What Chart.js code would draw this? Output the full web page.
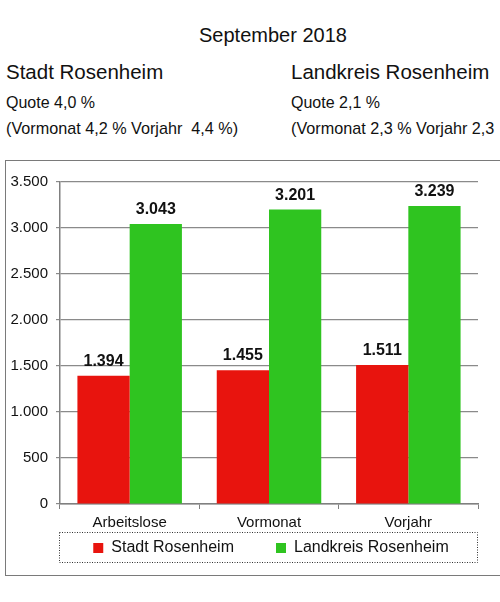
<!DOCTYPE html>
<html>
<head>
<meta charset="utf-8">
<script src="https://cdn.jsdelivr.net/npm/chart.js@4.4.0/dist/chart.umd.min.js"></script>
<style>
  html, body { margin: 0; padding: 0; background: #fff; }
  body { width: 500px; height: 602px; overflow: hidden; position: relative;
         font-family: "Liberation Sans", Arial, sans-serif; color: #111; }
  .txt { position: absolute; white-space: nowrap; }
  #frame { position: absolute; left: 5px; top: 160px; width: 600px; height: 414px;
           border: 1.5px solid #7a7a7a; }
  #box { position: absolute; left: 0; top: 160px; width: 500px; height: 416px; }
</style>
</head>
<body>
<div class="txt" style="left:199px; top:24px; font-size:20px; line-height:22px;">September 2018</div>
<div class="txt" style="left:6px; top:61px; font-size:20.5px; line-height:22px;">Stadt Rosenheim</div>
<div class="txt" style="left:291px; top:61px; font-size:20.5px; line-height:22px;">Landkreis Rosenheim</div>
<div class="txt" style="left:6px; top:94px; font-size:16px; line-height:18px;">Quote 4,0 %</div>
<div class="txt" style="left:291px; top:94px; font-size:16px; line-height:18px;">Quote 2,1 %</div>
<div class="txt" style="left:6px; top:119px; font-size:16.2px; line-height:18px;">(Vormonat 4,2 % Vorjahr&nbsp; 4,4 %)</div>
<div class="txt" style="left:291px; top:119px; font-size:16.2px; line-height:18px;">(Vormonat 2,3 % Vorjahr 2,3</div>
<div id="frame"></div>
<div id="box"><canvas id="chart"></canvas></div>
<script>
// daten
const categories = ['Arbeitslose', 'Vormonat', 'Vorjahr'];
const stadtValues = [1394, 1455, 1511];
const landkreisValues = [3043, 3201, 3239];
const seriesNames = ['Stadt Rosenheim', 'Landkreis Rosenheim'];
const yTicks = [0, 500, 1000, 1500, 2000, 2500, 3000, 3500];

const fontFamily = '"Liberation Sans", Arial, sans-serif';

// 1394 -> "1.394"
const fmt = function (v) {
    return String(v).replace(/\B(?=(\d{3})+(?!\d))/g, '.');
};

// werte über den balken
const valueLabels = {
    id: 'valueLabels',
    afterDatasetsDraw(chart) {
        const ctx = chart.ctx;
        ctx.save();
        ctx.font = 'bold 16px ' + fontFamily;
        ctx.fillStyle = '#111';
        ctx.textAlign = 'center';
        ctx.textBaseline = 'alphabetic';
        chart.data.datasets.forEach((ds, i) => {
            chart.getDatasetMeta(i).data.forEach((bar, j) => {
                ctx.fillText(fmt(ds.data[j]), bar.x, bar.y - 10);
            });
        });
        ctx.restore();
    }
};

// legende unter der achse, mit gepunktetem rahmen
const legendBox = {
    id: 'legendBox',
    afterLayout(chart) {
        const lg = chart.legend;
        lg.left = 35;
        lg.right = 507;
        lg.top = chart.scales.x.bottom + 18 - lg.options.labels.padding - 10;
    },
    afterDraw(chart) {
        const ctx = chart.ctx;
        const area = chart.chartArea;
        const top = chart.scales.x.bottom;
        ctx.save();
        ctx.strokeStyle = '#333';
        ctx.lineWidth = 1;
        ctx.setLineDash([1, 1.5]);
        ctx.strokeRect(area.left - 0.5, top + 0.5, area.right - area.left, 30);
        ctx.restore();
    }
};

const ctx = document.getElementById('chart');
new Chart(ctx, {
    type: 'bar',
    data: {
        labels: categories,
        datasets: [{
            label: seriesNames[0],
            data: stadtValues,
            backgroundColor: '#e8140e'
        }, {
            label: seriesNames[1],
            data: landkreisValues,
            backgroundColor: '#2fc420'
        }]
    },
    options: {
        responsive: true,
        maintainAspectRatio: false,
        animation: false,
        layout: { padding: { left: 0, right: 22, top: 22, bottom: 14 } },
        datasets: { bar: { categoryPercentage: 0.75, barPercentage: 1 } },
        scales: {
            x: {
                grid: { drawOnChartArea: false, drawTicks: true, tickLength: 5, color: '#808080' },
                border: { color: '#808080', width: 1.5 },
                ticks: { color: '#111', font: { family: fontFamily, size: 15 }, padding: 5 },
                afterFit(s) { s.height = 28; }
            },
            y: {
                min: 0,
                max: 3500,
                afterBuildTicks(s) { s.ticks = yTicks.map(v => ({ value: v })); },
                grid: { color: '#8a8a8a', lineWidth: 1.2, tickLength: 4 },
                border: { color: '#808080', width: 1.5 },
                ticks: {
                    color: '#111',
                    font: { family: fontFamily, size: 15 },
                    padding: 8,
                    callback: v => fmt(v)
                },
                afterFit(s) { s.width = 60; }
            }
        },
        plugins: {
            legend: {
                position: 'bottom',
                maxHeight: 30,
                labels: {
                    color: '#111',
                    font: { family: fontFamily, size: 16 },
                    boxWidth: 10,
                    boxHeight: 10,
                    padding: 42
                }
            },
            tooltip: { enabled: false }
        }
    },
    plugins: [valueLabels, legendBox]
});
</script>
</body>
</html>
